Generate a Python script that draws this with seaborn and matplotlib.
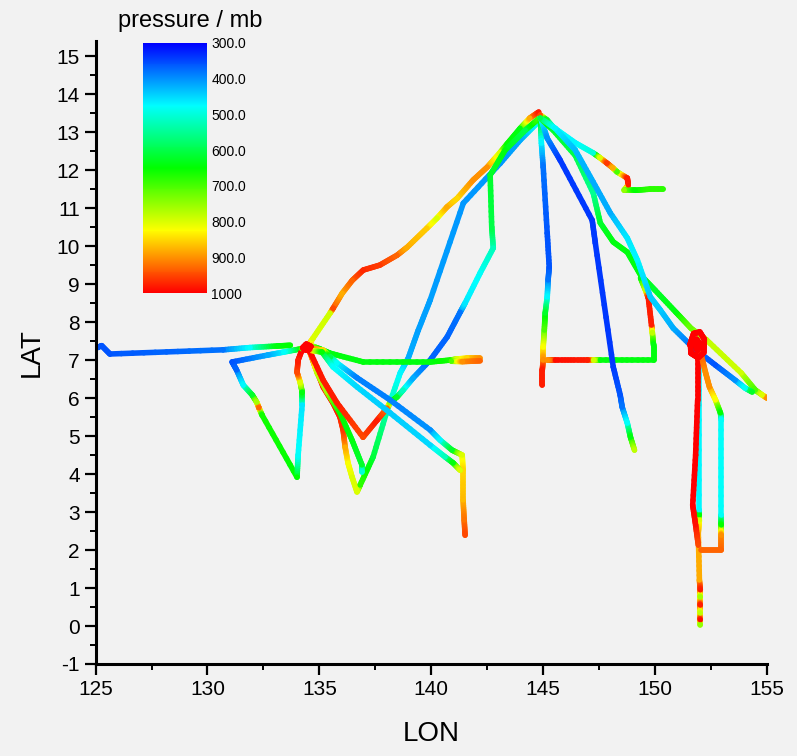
import numpy as np
import pandas as pd
import matplotlib
matplotlib.use("Agg")
import matplotlib.pyplot as plt
import seaborn as sns
from matplotlib.collections import LineCollection
from matplotlib.colors import LinearSegmentedColormap, Normalize
from matplotlib.cm import ScalarMappable
from matplotlib.ticker import MultipleLocator

# ---------------- data: (lon, lat, pressure mb) along each flight track ----------------
track_west = [(125.0, 7.31, 360), (125.27, 7.38, 360), (125.64, 7.16, 360), (130.7, 7.27, 380),
              (131.9, 7.33, 475), (133.1, 7.37, 640), (133.7, 7.39, 650)]
track_loop_west = [(134.2, 7.3, 700), (133.4, 7.21, 480), (132.67, 7.13, 420), (131.1, 6.95, 360),
                   (131.3, 6.74, 370), (131.6, 6.34, 470), (132.0, 6.08, 620), (132.2, 5.89, 760),
                   (132.3, 5.74, 930), (132.44, 5.55, 660), (134.0, 3.92, 650), (134.05, 4.5, 480),
                   (134.23, 5.82, 460), (134.23, 6.16, 640), (134.14, 6.42, 800), (134.0, 6.68, 950),
                   (134.05, 7.0, 980), (134.27, 7.34, 1000)]
track_ridge = [(134.5, 7.39, 950), (134.72, 7.58, 800), (135.48, 8.24, 790), (135.62, 8.37, 950),
               (136.02, 8.76, 880), (136.47, 9.1, 930), (136.96, 9.37, 970), (137.7, 9.5, 960),
               (138.47, 9.76, 930), (138.92, 9.97, 880), (139.8, 10.47, 860), (140.26, 10.74, 800),
               (140.7, 11.03, 880), (141.16, 11.26, 850), (141.87, 11.74, 900), (142.5, 12.08, 900),
               (143.08, 12.47, 800), (143.4, 12.7, 650), (143.97, 13.1, 640), (144.4, 13.37, 880),
               (144.8, 13.53, 980)]
track_south_v = [(144.87, 13.32, 500), (143.97, 12.79, 420), (143.08, 12.18, 405), (141.43, 11.13, 405),
                 (139.95, 8.58, 410), (139.42, 7.79, 410), (138.97, 7.05, 420), (138.61, 6.66, 470),
                 (138.03, 5.68, 530), (137.4, 4.45, 610), (136.82, 3.71, 680), (136.68, 3.53, 800),
                 (136.46, 3.92, 800), (136.28, 4.29, 820), (136.15, 4.71, 880), (136.06, 5.16, 960),
                 (135.92, 5.5, 970), (135.61, 5.87, 980), (135.17, 6.29, 970), (134.81, 6.82, 930),
                 (134.59, 7.18, 900), (134.45, 7.35, 950)]
track_red_v = [(134.45, 7.38, 1000), (135.17, 6.47, 980), (135.79, 5.87, 980), (136.95, 4.97, 950),
               (137.58, 5.42, 980), (138.03, 5.74, 930), (138.16, 5.89, 750), (138.47, 6.03, 620),
               (138.74, 6.21, 520), (139.19, 6.53, 420), (139.95, 7.0, 370), (140.71, 7.61, 370),
               (141.29, 8.26, 380), (141.51, 8.5, 460), (142.18, 9.29, 480), (142.77, 9.95, 520),
               (142.7, 10.5, 600), (142.63, 11.87, 620), (143.3, 12.53, 640), (144.2, 13.05, 600),
               (144.87, 13.39, 700)]
track_green_s = [(134.68, 7.05, 900), (134.9, 6.66, 780), (135.34, 6.16, 760), (135.92, 5.61, 650),
                 (136.46, 4.89, 640), (136.9, 4.24, 620), (136.9, 4.05, 500)]
track_green_e = [(134.59, 7.39, 850), (135.0, 7.3, 650), (135.48, 7.18, 640), (136.96, 6.95, 640),
                 (139.95, 6.95, 640), (140.84, 7.0, 660), (141.16, 7.03, 800), (141.6, 7.05, 850),
                 (142.18, 7.05, 900)]
track_green_e_end = [(140.9, 6.97, 700), (141.4, 6.96, 900), (142.18, 6.98, 930)]
track_blue_se = [(134.41, 7.34, 950), (135.17, 7.26, 850), (135.5, 7.08, 600), (135.79, 6.92, 480),
                 (136.69, 6.53, 390), (138.16, 5.95, 390), (139.95, 5.16, 400), (140.4, 4.89, 470),
                 (140.93, 4.63, 620), (141.38, 4.5, 800), (141.42, 4.1, 850), (141.42, 3.32, 870),
                 (141.47, 2.79, 920), (141.51, 2.39, 950)]
track_cyan_se = [(134.58, 7.26, 900), (135.12, 7.21, 650), (135.61, 6.82, 480), (136.69, 6.29, 450),
                 (138.16, 5.61, 440), (139.95, 4.76, 450), (140.62, 4.45, 520), (140.98, 4.29, 640),
                 (141.29, 4.1, 800)]
track_vertical = [(144.87, 13.4, 700), (144.92, 12.71, 470), (145.0, 12.08, 380), (145.18, 10.34, 360),
                  (145.27, 9.45, 360), (145.22, 9.11, 380), (145.18, 8.66, 470), (145.09, 8.24, 620),
                  (145.05, 7.79, 700), (145.0, 7.34, 820), (145.0, 7.0, 900), (144.96, 6.74, 980),
                  (144.96, 6.34, 980)]
track_box = [(149.35, 9.16, 640), (149.57, 8.84, 780), (149.7, 8.63, 980), (149.84, 7.92, 980),
             (149.88, 7.71, 780), (149.93, 7.39, 640), (149.93, 7.0, 640), (147.55, 7.0, 640),
             (147.24, 7.0, 790), (146.97, 7.0, 980), (145.54, 7.0, 990), (145.18, 7.0, 900)]
track_dark_blue = [(144.87, 13.4, 500), (145.18, 12.84, 400), (145.76, 12.26, 340), (147.19, 10.68, 340),
                   (147.33, 10.08, 340), (148.13, 6.82, 340), (148.44, 6.08, 360), (148.53, 5.76, 380),
                   (148.76, 5.34, 480), (148.9, 4.97, 640), (149.08, 4.63, 780)]
track_stub_ne = [(144.87, 13.45, 950), (145.17, 13.32, 620), (145.45, 13.13, 480), (146.43, 12.72, 470),
                 (147.24, 12.45, 500), (147.55, 12.32, 800), (147.86, 12.18, 960), (148.13, 12.05, 880),
                 (148.31, 11.95, 700), (148.76, 11.79, 980), (148.8, 11.61, 980), (148.62, 11.47, 750),
                 (149.11, 11.47, 650), (149.78, 11.5, 680), (150.36, 11.5, 680)]
track_green_se = [(144.87, 13.37, 700), (145.45, 13.05, 620), (146.43, 12.39, 600), (147.24, 11.39, 550),
                  (147.55, 10.61, 620), (148.13, 10.11, 640), (148.76, 9.84, 640), (149.35, 9.24, 640),
                  (150.0, 8.84, 620), (150.93, 8.26, 640), (151.6, 7.84, 720), (152.3, 7.53, 780),
                  (153.85, 6.66, 790), (154.48, 6.21, 700), (154.79, 6.08, 800), (155.0, 6.0, 900)]
track_azure_se = [(144.87, 13.37, 600), (145.54, 13.1, 470), (146.43, 12.53, 430), (147.24, 11.68, 420),
                  (148.0, 10.87, 420), (148.76, 10.21, 460), (149.21, 9.63, 470), (149.79, 8.66, 440),
                  (150.23, 8.32, 440), (150.81, 7.84, 420), (151.71, 7.32, 380), (152.69, 6.87, 360),
                  (153.58, 6.47, 400), (154.03, 6.26, 480), (154.34, 6.16, 620)]
track_south_east = [(151.98, 7.39, 1000), (151.98, 7.0, 470), (151.98, 3.05, 470), (151.98, 2.92, 650),
                    (151.98, 2.79, 800), (151.93, 2.45, 880), (151.98, 1.21, 880), (152.02, 0.95, 980),
                    (152.02, 0.76, 760), (152.02, 0.55, 980), (152.02, 0.34, 780), (152.02, 0.16, 990),
                    (152.02, 0.03, 750)]
track_red_se = [(151.9, 7.13, 1000), (151.9, 5.95, 1000), (151.81, 4.5, 1000), (151.68, 3.18, 1000),
                (151.81, 2.66, 990), (151.93, 2.13, 950)]
track_loop_se = [(152.03, 7.21, 950), (152.25, 6.68, 900), (152.43, 6.29, 900), (152.7, 5.95, 820),
                 (152.92, 5.61, 650), (152.96, 5.42, 480), (152.96, 2.92, 480), (152.96, 2.66, 650),
                 (152.96, 2.39, 900), (152.96, 2.0, 930), (152.07, 2.0, 930)]
track_base_east = [(151.55, 7.4, 1000), (151.72, 7.7, 1000), (152.0, 7.74, 1000), (152.2, 7.55, 1000),
                   (152.18, 7.2, 1000), (151.92, 7.06, 1000), (151.6, 7.18, 1000), (151.58, 7.42, 1000),
                   (151.85, 7.55, 1000), (152.05, 7.4, 1000), (151.88, 7.25, 1000), (151.75, 7.5, 1000)]
track_base_west = [(134.25, 7.32, 1000), (134.41, 7.42, 1000), (134.62, 7.36, 1000), (134.5, 7.26, 1000),
                   (134.3, 7.28, 1000)]

cbar_ticks = [300, 400, 500, 600, 700, 800, 900, 1000]
cbar_labels = ["300.0", "400.0", "500.0", "600.0", "700.0", "800.0", "900.0", "1000"]
x_ticks = [125, 130, 135, 140, 145, 150, 155]
y_ticks = list(range(-1, 16))

tracks = [track_west, track_loop_west, track_ridge, track_south_v, track_green_s, track_red_v,
          track_green_e, track_green_e_end, track_blue_se, track_cyan_se, track_vertical, track_box,
          track_dark_blue, track_stub_ne, track_green_se, track_azure_se, track_south_east,
          track_red_se, track_loop_se, track_base_east, track_base_west]

frames = []
for i, t in enumerate(tracks):
    d = pd.DataFrame(t, columns=["lon", "lat", "p"])
    d["track"] = i
    frames.append(d)
df = pd.concat(frames, ignore_index=True)

# ---------------- style ----------------
BG = "#f2f2f2"
sns.set_theme(style="white")
plt.rcParams["font.family"] = ["Liberation Sans Narrow", "Liberation Sans", "DejaVu Sans"]
plt.rcParams["axes.unicode_minus"] = False
for k in ["text.color", "axes.labelcolor", "xtick.color", "ytick.color"]:
    plt.rcParams[k] = "black"

cmap = LinearSegmentedColormap.from_list(
    "rainbow_origin", ["#0000ff", "#00ffff", "#00ff00", "#ffff00", "#ff0000"])
norm = Normalize(300, 1000)
LW = 4.0
SHADE_STEPS = 10  # colour shading steps drawn along each segment (rendering only)

fig = plt.figure(figsize=(7.97, 7.56), dpi=100, facecolor=BG)
ax = fig.add_axes([0.11995, 0.1217, 0.8424, 0.8241])
ax.set_facecolor(BG)

frac = np.linspace(0.0, 1.0, SHADE_STEPS + 1)
for i, (tid, g) in enumerate(df.groupby("track", sort=True)):
    pts = g[["lon", "lat"]].to_numpy()
    pv = g["p"].to_numpy().astype(float)
    segs, cvals = [], []
    for a in range(len(pts) - 1):
        p0, p1 = pts[a], pts[a + 1]
        q = p0[None, :] + (p1 - p0)[None, :] * frac[:, None]
        c = pv[a] + (pv[a + 1] - pv[a]) * (frac[:-1] + frac[1:]) / 2
        segs.extend(np.stack([q[:-1], q[1:]], axis=1))
        cvals.extend(c)
    lc = LineCollection(segs, colors=cmap(norm(np.array(cvals))), linewidths=LW,
                        capstyle="round", joinstyle="round", zorder=2 + i * 0.01)
    ax.add_collection(lc)
    sns.scatterplot(data=g, x="lon", y="lat", hue="p", palette=cmap, hue_norm=norm,
                    s=LW ** 2 * 0.9, linewidth=0, legend=False, ax=ax,
                    zorder=2 + i * 0.01 + 0.005)

ax.set_xlim(125, 155)
ax.set_ylim(-1, 15.4)
ax.set_xticks(x_ticks)
ax.set_yticks(y_ticks)
ax.xaxis.set_minor_locator(MultipleLocator(2.5))
ax.yaxis.set_minor_locator(MultipleLocator(0.5))
ax.tick_params(which="major", direction="out", length=8, width=1.6, labelsize=15,
               colors="black", bottom=True, left=True)
ax.tick_params(which="minor", direction="out", length=4, width=1.4, bottom=True, left=True)
for s in ["top", "right"]:
    ax.spines[s].set_visible(False)
for s in ["left", "bottom"]:
    ax.spines[s].set_linewidth(2.2)
    ax.spines[s].set_color("black")
ax.set_xlabel("LON", fontsize=20, labelpad=16)
ax.set_ylabel("LAT", fontsize=20, labelpad=8)
ax.grid(False)

# ---------------- colour bar ----------------
cax = fig.add_axes([143 / 797, (756 - 293) / 756, 64 / 797, 250 / 756])
cb = fig.colorbar(ScalarMappable(norm=norm, cmap=cmap), cax=cax)
cax.invert_yaxis()
cb.set_ticks(cbar_ticks)
cb.set_ticklabels(cbar_labels)
cb.outline.set_visible(False)
cax.tick_params(length=0, labelsize=10, pad=3)
fig.text(190 / 797, 1 - 21 / 756, "pressure / mb", ha="center", va="center", fontsize=17)

fig.savefig("out.png", dpi=100, facecolor=BG)
